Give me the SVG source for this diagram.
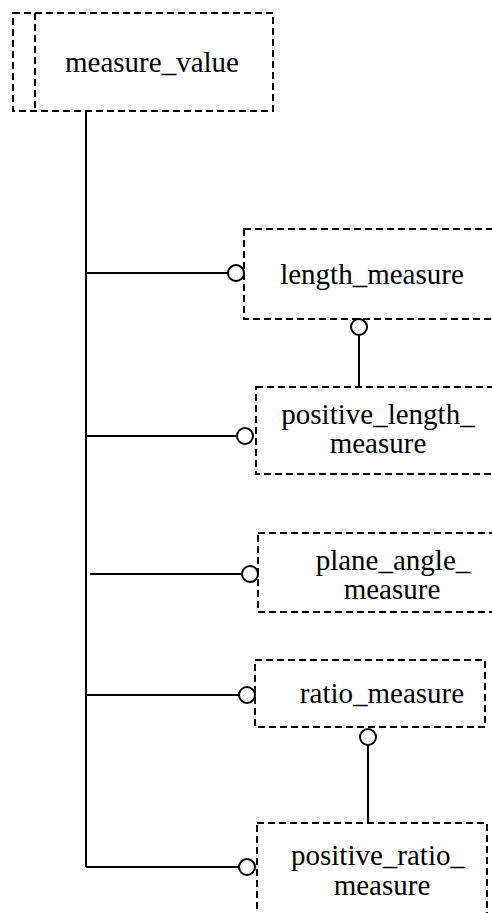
<svg xmlns="http://www.w3.org/2000/svg" width="492" height="913" viewBox="0 0 492 913">
<style>
.box{fill:none;stroke:#000;stroke-width:2;stroke-dasharray:7,4}
.ln{fill:none;stroke:#000;stroke-width:2}
.cir{fill:#fff;stroke:#000;stroke-width:2}
.t{font-size:29px;fill:#000;text-anchor:middle}
</style>
<rect width="492" height="913" fill="#fff"/>
<g id="connectors">
<line class="ln" x1="86" y1="111" x2="86" y2="867"/>
<line class="ln" x1="86" y1="273" x2="228" y2="273"/>
<line class="ln" x1="86" y1="436" x2="237" y2="436"/>
<line class="ln" x1="90" y1="574" x2="242" y2="574" stroke-width="2.5"/>
<line class="ln" x1="86" y1="695" x2="239" y2="695"/>
<line class="ln" x1="86" y1="867" x2="239" y2="867" stroke-width="2.5"/>
<line class="ln" x1="359" y1="335" x2="359" y2="387"/>
<line class="ln" x1="368" y1="745" x2="368" y2="823"/>
<circle class="cir" cx="236" cy="273" r="8"/>
<circle class="cir" cx="245" cy="436" r="8"/>
<circle class="cir" cx="250" cy="574" r="8"/>
<circle class="cir" cx="247" cy="695" r="8"/>
<circle class="cir" cx="247" cy="867" r="8"/>
<circle class="cir" cx="359" cy="327" r="8"/>
<circle class="cir" cx="368" cy="737" r="8"/>
</g>
<g font-family="Liberation Serif, DejaVu Serif, serif">
<g id="measure_value">
<rect class="box" x="13" y="13" width="260" height="98"/>
<line class="box" x1="35" y1="13" x2="35" y2="111"/>
<text class="t" x="152" y="72">measure_value</text>
</g>
<g id="length_measure">
<rect class="box" x="244" y="229" width="260" height="90"/>
<text class="t" x="372" y="284">length_measure</text>
</g>
<g id="positive_length_measure">
<rect class="box" x="256" y="387" width="250" height="87"/>
<text class="t" x="378" y="424">positive_length_</text>
<text class="t" x="378" y="453">measure</text>
</g>
<g id="plane_angle_measure">
<rect class="box" x="258" y="533" width="250" height="79"/>
<text class="t" x="393" y="570">plane_angle_</text>
<text class="t" x="392" y="599">measure</text>
</g>
<g id="ratio_measure">
<rect class="box" x="255" y="660" width="230" height="67"/>
<text class="t" x="382" y="703">ratio_measure</text>
</g>
<g id="positive_ratio_measure">
<rect class="box" x="257" y="823" width="230" height="110"/>
<text class="t" x="378" y="865">positive_ratio_</text>
<text class="t" x="382" y="895">measure</text>
</g>
</g>
</svg>
